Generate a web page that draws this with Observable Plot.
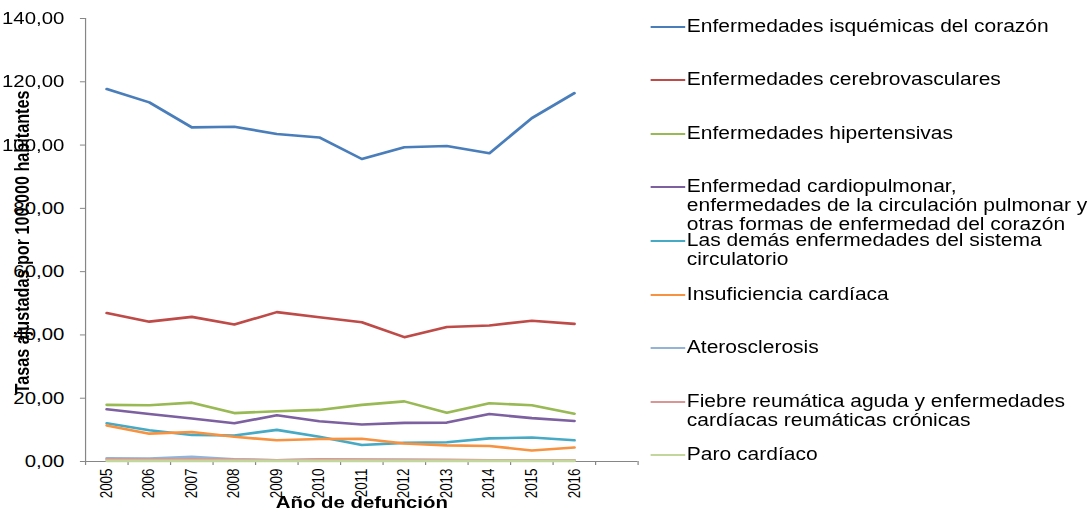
<!DOCTYPE html>
<html>
<head>
<meta charset="utf-8">
<script src="https://cdn.jsdelivr.net/npm/d3@7"></script>
<script src="https://cdn.jsdelivr.net/npm/@observablehq/plot@0.6"></script>
<style>
  html, body { margin: 0; padding: 0; background: #fff; overflow: hidden; }
  #wrap { position: relative; width: 908px; height: 511px; transform: scaleX(1.2); transform-origin: 0 0;
          font-family: "Liberation Sans", Arial, sans-serif; }
  #chart { position: absolute; left: 0; top: 0; }
  #legend { position: absolute; left: 541.7px; top: 0; }
  .item { position: absolute; left: 0; display: flex; align-items: flex-start; font-size: 17.5px;
          line-height: 19px; white-space: pre; color: #000; }
  .sw { width: 29px; height: 2.2px; margin-top: 9px; margin-right: 1.7px; flex: none; }
</style>
</head>
<body>
<div id="wrap"><div id="chart"></div><div id="legend"></div></div>
<script>
const years = [2005, 2006, 2007, 2008, 2009, 2010, 2011, 2012, 2013, 2014, 2015, 2016];

const seriesNames = [
  "Enfermedades isquémicas del corazón",
  "Enfermedades cerebrovasculares",
  "Enfermedades hipertensivas",
  "Enfermedad cardiopulmonar,\nenfermedades de la circulación pulmonar y\notras formas de enfermedad del corazón",
  "Las demás enfermedades del sistema\ncirculatorio",
  "Insuficiencia cardíaca",
  "Aterosclerosis",
  "Fiebre reumática aguda y enfermedades\ncardíacas reumáticas crónicas",
  "Paro cardíaco"
];
const seriesColors = ["#4A7EBB", "#BE4B48", "#98B954", "#7D60A0", "#46AAC5", "#F69240", "#95B3D7", "#D99694", "#C3D69B"];

const isquemicas     = [117.7, 113.5, 105.6, 105.8, 103.5, 102.4, 95.6, 99.3, 99.7, 97.4, 108.5, 116.4];
const cerebro        = [46.9, 44.2, 45.7, 43.3, 47.2, 45.6, 44.0, 39.3, 42.5, 43.0, 44.5, 43.5];
const hipertensivas  = [17.9, 17.8, 18.6, 15.3, 15.9, 16.3, 17.9, 19.0, 15.4, 18.4, 17.8, 15.1];
const cardiopulmonar = [16.5, 15.0, 13.6, 12.1, 14.6, 12.7, 11.7, 12.2, 12.3, 15.0, 13.7, 12.8];
const demas          = [12.1, 9.9, 8.4, 8.2, 10.0, 7.8, 5.2, 5.9, 6.1, 7.3, 7.6, 6.7];
const insuficiencia  = [11.4, 8.8, 9.3, 7.8, 6.7, 7.1, 7.2, 5.7, 5.1, 4.9, 3.5, 4.4];
const aterosclerosis = [1.0, 0.9, 1.5, 0.7, 0.4, 0.6, 0.5, 0.5, 0.4, 0.3, 0.3, 0.3];
const fiebre         = [0.7, 0.6, 0.7, 0.6, 0.4, 0.7, 0.6, 0.5, 0.5, 0.4, 0.4, 0.4];
const paro           = [0.2, 0.2, 0.2, 0.2, 0.2, 0.2, 0.2, 0.2, 0.2, 0.2, 0.2, 0.2];

const seriesValues = [isquemicas, cerebro, hipertensivas, cardiopulmonar, demas, insuficiencia, aterosclerosis, fiebre, paro];
const yTicks = [0, 20, 40, 60, 80, 100, 120, 140];
const yTitle = "Tasas ajustadas por 100.000 habitantes";
const xTitle = "Año de defunción";

const data = seriesNames.flatMap((s, i) => years.map((yr, j) => ({series: s, year: yr, value: seriesValues[i][j]})));
const bandEdges = d3.range(years.length + 2).map(i => years[0] - 0.5 + i);
const fmt = d => d.toFixed(2).replace(".", ",");
const axisGray = "#868686";

const chart = Plot.plot({
  width: 540,
  height: 511,
  marginLeft: 70.8,
  marginRight: 8.75,
  marginTop: 18,
  marginBottom: 50,
  style: {fontFamily: '"Liberation Sans", Arial, sans-serif', background: "white", overflow: "visible", color: "#000"},
  x: {domain: [bandEdges[0], bandEdges[bandEdges.length - 1]], axis: null, label: null},
  y: {domain: [0, 140], axis: null, label: null},
  color: {domain: seriesNames, range: seriesColors},
  marks: [
    Plot.ruleY([0], {stroke: axisGray, strokeWidth: 1}),
    Plot.ruleX([bandEdges[0]], {y1: 0, y2: 140, stroke: axisGray, strokeWidth: 1}),
    Plot.axisY(yTicks, {tickSize: 4.2, tickFormat: () => "", stroke: axisGray, label: null}),
    Plot.axisY(yTicks, {tickSize: 0, tickPadding: 17.7, tickFormat: fmt, fontSize: 17, label: null}),
    Plot.axisX(bandEdges, {tickSize: 4, tickFormat: () => "", stroke: axisGray, label: null}),
    Plot.axisX(years, {tickSize: 0, tickPadding: 7, tickRotate: -90, fontSize: 13.4, tickFormat: d => String(d), label: null}),
    Plot.line(data, {x: "year", y: "value", z: "series", stroke: "series", strokeWidth: 2.6}),
    Plot.text([yTitle], {frameAnchor: "left", dx: -52.5, dy: 2, rotate: -90, textAnchor: "middle", lineAnchor: "middle", fontSize: 16.2, fontWeight: "bold", fill: "#000"}),
    Plot.text([xTitle], {frameAnchor: "bottom", dy: 41.5, textAnchor: "middle", lineAnchor: "middle", fontSize: 17, fontWeight: "bold", fill: "#000"})
  ]
});
document.getElementById("chart").appendChild(chart);

// Legend (Excel-style, evenly spaced entries)
const legend = document.getElementById("legend");
const firstTop = 16.5, step = 53.6;
seriesNames.forEach((name, i) => {
  const item = document.createElement("div");
  item.className = "item";
  item.style.top = (firstTop + i * step) + "px";
  const sw = document.createElement("div");
  sw.className = "sw";
  sw.style.background = seriesColors[i];
  const tx = document.createElement("div");
  tx.textContent = name;
  item.appendChild(sw);
  item.appendChild(tx);
  legend.appendChild(item);
});
</script>
</body>
</html>
